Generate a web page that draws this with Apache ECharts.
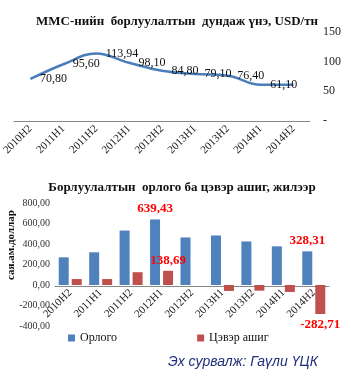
<!DOCTYPE html>
<html>
<head>
<meta charset="utf-8">
<script src="https://cdn.jsdelivr.net/npm/echarts@6/dist/echarts.min.js"></script>
<style>
  html, body { margin: 0; padding: 0; background: #fff; }
  #chart { width: 351px; height: 392px; }
</style>
</head>
<body>
<div id="chart"></div>
<script>
// half-year periods, shared by both charts
const periods = ['2010H2', '2011H1', '2011H2', '2012H1', '2012H2', '2013H1', '2013H2', '2014H1', '2014H2']

// average selling price, USD/t
const price = [70.80, 95.60, 113.94, 98.10, 84.80, 79.10, 76.40, 61.10, 61.0]
const priceTicks = [0, 50, 100, 150]

// revenue and net profit, mln USD
const revenue = [270, 319, 531, 639.43, 464, 483, 425, 377, 328.31]
const profit = [58, 58, 125, 138.69, 0, -58, -55, -68, -282.71]
const valueTicks = [-400, -200, 0, 200, 400, 600, 800]

// which bars carry a red value label
const revenueLabeled = [3, 8]
const profitLabeled = [3, 8]

const serif = '"Liberation Serif", "Times New Roman", serif'
const blue = '#4f81bd'
const red = '#c0504d'

const fmt = v => v.toFixed(2).replace('.', ',')

const chart = echarts.init(document.getElementById('chart'))

chart.setOption({
  animation: false,
  title: [{
    text: 'ММС-нийн  борлуулалтын  дундаж үнэ, USD/тн',
    left: 172, top: 10, textAlign: 'center',
    textStyle: { fontFamily: serif, fontSize: 13, fontWeight: 'bold', color: '#111' }
  }, {
    text: 'Борлуулалтын  орлого ба цэвэр ашиг, жилээр',
    left: 177, top: 176, textAlign: 'center',
    textStyle: { fontFamily: serif, fontSize: 13, fontWeight: 'bold', color: '#111' }
  }, {
    text: 'Эх сурвалж: Гаүли ҮЦК',
    left: 163, top: 350,
    textStyle: { fontFamily: '"Liberation Sans", Arial, sans-serif', fontSize: 14, fontStyle: 'italic', fontWeight: 'normal', color: '#1f2f7a' }
  }],
  // unit caption of the lower chart, turned on its side
  graphic: [{
    type: 'text',
    x: 11, y: 245,
    rotation: Math.PI / 2,
    style: {
      text: 'сая.ам.доллар',
      font: 'bold 11px ' + serif,
      fill: '#111',
      align: 'center',
      verticalAlign: 'middle'
    }
  }],
  legend: {
    left: 63, top: 327,
    itemWidth: 7, itemHeight: 7, itemGap: 80,
    icon: 'rect',
    data: ['Орлого', 'Цэвэр ашиг'],
    textStyle: { fontFamily: serif, fontSize: 12, color: '#111' }
  },
  grid: [
    { left: 14, right: 41, top: 32, bottom: 271, outerBoundsMode: 'none' },
    { left: 55, right: 22, top: 203, bottom: 66, outerBoundsMode: 'none' }
  ],
  xAxis: [{
    gridIndex: 0,
    type: 'category',
    data: periods,
    axisLine: { lineStyle: { color: '#888', width: 1 } },
    axisTick: { show: false },
    axisLabel: { rotate: 45, margin: 6, fontFamily: serif, fontSize: 11, color: '#222', interval: 0 }
  }, {
    gridIndex: 1,
    type: 'category',
    data: periods,
    // axis sits on the zero line, labels hang from it
    offset: -40,
    axisLine: { onZero: false, lineStyle: { color: '#888', width: 1 } },
    axisTick: { show: false },
    axisLabel: { rotate: 45, margin: 5, fontFamily: serif, fontSize: 11, color: '#222', interval: 0 }
  }],
  yAxis: [{
    gridIndex: 0,
    type: 'value',
    position: 'right',
    min: priceTicks[0],
    max: priceTicks[priceTicks.length - 1],
    interval: 50,
    splitLine: { show: false },
    axisLine: { show: false },
    axisTick: { show: false },
    axisLabel: {
      margin: 13, fontFamily: serif, fontSize: 12, color: '#222',
      formatter: v => v === 0 ? '-' : String(v)
    }
  }, {
    gridIndex: 1,
    type: 'value',
    min: valueTicks[0],
    max: valueTicks[valueTicks.length - 1],
    interval: 200,
    splitLine: { show: false },
    axisLine: { show: false },
    axisTick: { show: false },
    axisLabel: { margin: 5, fontFamily: serif, fontSize: 10, color: '#333', formatter: v => fmt(v) }
  }],
  series: [{
    name: 'price',
    type: 'line',
    xAxisIndex: 0,
    yAxisIndex: 0,
    smooth: 0.4,
    symbol: 'circle',
    symbolSize: 1,
    showSymbol: true,
    itemStyle: { color: 'rgba(0,0,0,0)' },
    data: price.map((v, i) => ({
      value: v,
      label: { show: i < price.length - 1 }
    })),
    lineStyle: { color: '#4a7ebb', width: 2.5 },
    label: {
      show: true,
      position: 'right', distance: 9,
      fontFamily: serif, fontSize: 12, color: '#111',
      formatter: p => fmt(p.value)
    }
  }, {
    name: 'Орлого',
    type: 'bar',
    xAxisIndex: 1,
    yAxisIndex: 1,
    barWidth: 10,
    barGap: '30%',
    itemStyle: { color: blue },
    data: revenue.map((v, i) => ({
      value: v,
      label: { show: revenueLabeled.includes(i) }
    })),
    label: {
      position: 'top', distance: 4,
      fontFamily: serif, fontSize: 13, fontWeight: 'bold', color: '#ff0000',
      formatter: p => fmt(p.value)
    }
  }, {
    name: 'Цэвэр ашиг',
    type: 'bar',
    xAxisIndex: 1,
    yAxisIndex: 1,
    barWidth: 10,
    barGap: '30%',
    itemStyle: { color: red },
    data: profit.map((v, i) => ({
      value: v,
      label: { show: profitLabeled.includes(i), position: v < 0 ? 'bottom' : 'top' }
    })),
    label: {
      distance: 4,
      fontFamily: serif, fontSize: 13, fontWeight: 'bold', color: '#ff0000',
      formatter: p => fmt(p.value)
    }
  }]
})
</script>
</body>
</html>
